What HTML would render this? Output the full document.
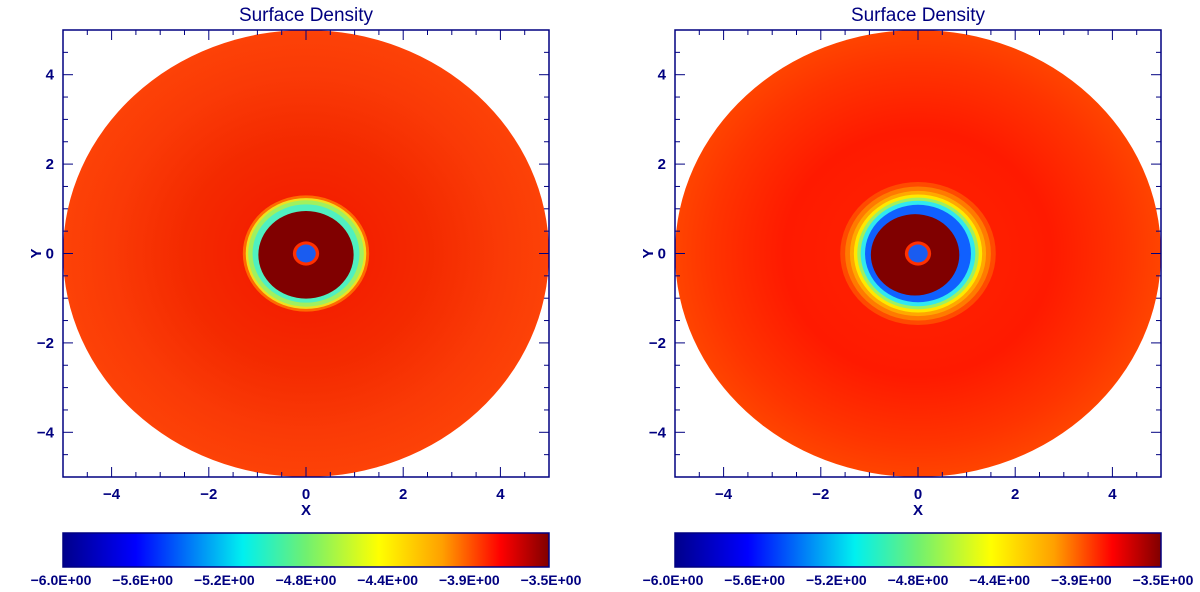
<!DOCTYPE html>
<html><head><meta charset="utf-8"><style>
body{margin:0;background:#fff;width:1200px;height:587px;overflow:hidden}
svg text{font-family:"Liberation Sans",sans-serif;fill:#000080}
</style></head><body>
<svg id="s" width="1200" height="587" viewBox="0 0 1200 587">
<defs>
<linearGradient id="jet" x1="0" x2="1" y1="0" y2="0">
<stop offset="0" stop-color="#00008b"/><stop offset="0.15" stop-color="#0000ff"/>
<stop offset="0.37" stop-color="#00f0f0"/><stop offset="0.5" stop-color="#70f070"/>
<stop offset="0.65" stop-color="#ffff00"/><stop offset="0.78" stop-color="#ffa000"/>
<stop offset="0.9" stop-color="#ff0000"/><stop offset="1" stop-color="#800000"/>
</linearGradient>
<radialGradient id="bgL" cx="0.5" cy="0.5" r="0.5">
<stop offset="0.25" stop-color="#f42000"/><stop offset="0.5" stop-color="#f42a00"/><stop offset="0.8" stop-color="#fa3a06"/><stop offset="1" stop-color="#fd4207"/>
</radialGradient>
<radialGradient id="bgR" cx="0.5" cy="0.5" r="0.5">
<stop offset="0.25" stop-color="#ff2000"/><stop offset="0.55" stop-color="#ff1a00"/><stop offset="0.85" stop-color="#ff3400"/><stop offset="1" stop-color="#ff4400"/>
</radialGradient>
</defs>
</svg>
<script>
const NS="http://www.w3.org/2000/svg";
const svg=document.getElementById('s');
const xTicks=[-4,-2,0,2,4];
const yTicks=[-4,-2,0,2,4];
const cbLabels=["-6.0E+00","-5.6E+00","-5.2E+00","-4.8E+00","-4.4E+00","-3.9E+00","-3.5E+00"];
const diskRadius=5;
const starRadius=0.2;
// ring structure: [radius in units, color], drawn outer to inner
const ringsLeft=[[1.3,"#ff6a00"],[1.24,"#f0e020"],[1.19,"#a0f060"],[1.1,"#50f0c0"],[0.98,"#800000"]];
const ringsRight=[[1.6,"#ff4a00"],[1.5,"#ff7a00"],[1.4,"#ffa800"],[1.32,"#ffe800"],[1.25,"#a0f060"],[1.18,"#30e8f0"],[1.09,"#1060ff"],[0.91,"#800000"]];
const panels=[{x0:63,x1:549,bg:"url(#bgL)",rings:ringsLeft,dx:0,name:"left"},{x0:675,x1:1161,bg:"url(#bgR)",rings:ringsRight,dx:-0.06,name:"right"}];
const y0=30,y1=477;
function el(tag,attrs,name,parent){const e=document.createElementNS(NS,tag);for(const k in attrs)e.setAttribute(k,attrs[k]);


(parent||svg).appendChild(e);return e;}
panels.forEach(p=>{
 const sx=v=>p.x0+(v+5)/10*(p.x1-p.x0);
 const sy=v=>y1-(v+5)/10*(y1-y0);
 const kx=(p.x1-p.x0)/10,ky=(y1-y0)/10;
 const g=el('g',{},p.name+'-panel');
 el('ellipse',{cx:sx(0),cy:sy(0),rx:diskRadius*kx,ry:diskRadius*ky,fill:p.bg},'disk',g);
 p.rings.forEach((r,i)=>{el('ellipse',{cx:sx(i==p.rings.length-1?p.dx:0),cy:sy(i==p.rings.length-1?-0.03:0),rx:r[0]*kx,ry:r[0]*ky,fill:r[1]},'ring-'+i,g);});
 el('ellipse',{cx:sx(0),cy:sy(0),rx:(starRadius+0.07)*kx,ry:(starRadius+0.07)*ky,fill:"#ff3000"},'star-halo',g);
 el('ellipse',{cx:sx(0),cy:sy(0),rx:starRadius*kx,ry:starRadius*ky,fill:"#1a5cf0"},'central-hole',g);
 el('rect',{x:p.x0,y:y0,width:p.x1-p.x0,height:y1-y0,fill:"none",stroke:"#000080","stroke-width":1.5},'plot-frame',g);
 for(let v=-5;v<=5.001;v+=0.5){const maj=Math.abs(v%2)<1e-6&&Math.abs(v)<5;const L=maj?10:5;
  el('line',{x1:sx(v),x2:sx(v),y1:y1,y2:y1-L,stroke:"#000080"},'x-tick',g);
  el('line',{x1:sx(v),x2:sx(v),y1:y0,y2:y0+L,stroke:"#000080"},'x-tick-top',g);
  el('line',{y1:sy(v),y2:sy(v),x1:p.x0,x2:p.x0+L,stroke:"#000080"},'y-tick',g);
  el('line',{y1:sy(v),y2:sy(v),x1:p.x1,x2:p.x1-L,stroke:"#000080"},'y-tick-right',g);}
 xTicks.forEach(v=>{const t=el('text',{x:sx(v),y:y1+22,"text-anchor":"middle","font-size":15,"font-weight":"bold"},'x-tick-label',g);t.textContent=(v<0?'−':'')+Math.abs(v);});
 yTicks.forEach(v=>{const t=el('text',{x:p.x0-9,y:sy(v)+5,"text-anchor":"end","font-size":15,"font-weight":"bold"},'y-tick-label',g);t.textContent=(v<0?'−':'')+Math.abs(v);});
 let t=el('text',{x:sx(0),y:y1+38,"text-anchor":"middle","font-size":15,"font-weight":"bold"},'x-axis-title',g);t.textContent='X';
 t=el('text',{x:p.x0-27,y:sy(0)+5,"text-anchor":"middle","font-size":15,"font-weight":"bold","transform":"rotate(-90 "+(p.x0-27)+" "+sy(0)+")"},'y-axis-title',g);t.textContent='Y';
 t=el('text',{x:sx(0),y:21,"text-anchor":"middle","font-size":19},'chart-title',g);t.textContent='Surface Density';
 el('rect',{x:p.x0,y:533,width:p.x1-p.x0,height:34,fill:"url(#jet)",stroke:"#000080","stroke-width":1.5},'colorbar',g);
 cbLabels.forEach((s,i)=>{const tt=el('text',{x:p.x0-2+i*(p.x1-p.x0+4)/6,y:585,"text-anchor":"middle","font-size":14,"font-weight":"bold"},'colorbar-label',g);tt.textContent=s.replace(/-/g,'−');});
});
</script>
</body></html>
